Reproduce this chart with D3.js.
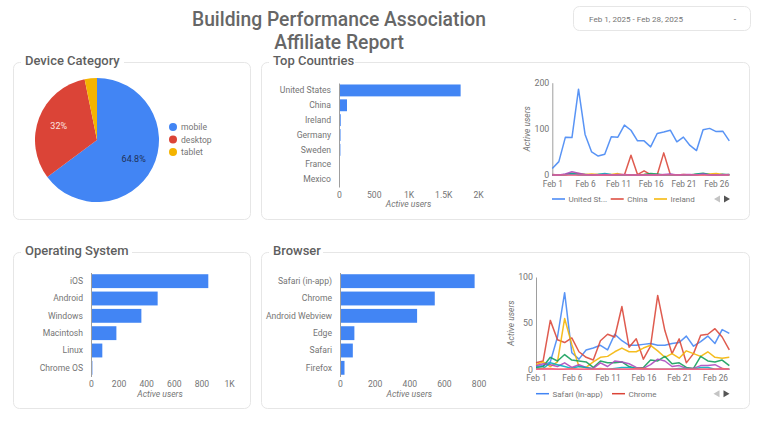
<!DOCTYPE html>
<html>
<head>
<meta charset="utf-8">
<script src="https://cdn.jsdelivr.net/npm/d3@7"></script>
<style>
  html, body { margin: 0; padding: 0; background: #fff; }
  svg { display: block; font-family: Roboto, sans-serif; }
  text { fill: #757575; font-size: 8.6px; }
  .title { font-size: 19.3px; font-weight: 500; fill: #666; text-anchor: middle; }
  .card-title { font-size: 13px; font-weight: 500; fill: #5f5f5f; }
  .card { fill: #fff; stroke: #e6e6e6; }
  .axis-title { font-style: italic; text-anchor: middle; }
  .legend-label { font-size: 8px; }
</style>
</head>
<body>
<svg id="chart" width="768" height="421"></svg>
<script>
var BLUE = '#4285f4', RED = '#db4437', YELLOW = '#f4b400', GREEN = '#0f9d58',
  PURPLE = '#ab47bc', TEAL = '#00acc1', ORANGE = '#ff7043', PINK = '#f06292';

var days = d3.range(1, 29).map(function(d) { return 'Feb ' + d; });
var dayTicks = ['Feb 1', 'Feb 6', 'Feb 11', 'Feb 16', 'Feb 21', 'Feb 26'];

var deviceNames = ['mobile', 'desktop', 'tablet'];
var deviceShares = [64.8, 32, 3.2];
var deviceColors = [BLUE, RED, YELLOW];

var countryNames = ['United States', 'China', 'Ireland', 'Germany', 'Sweden', 'France', 'Mexico'];
var countryUsers = [1750, 115, 25, 22, 20, 10, 8];

var osNames = ['iOS', 'Android', 'Windows', 'Macintosh', 'Linux', 'Chrome OS'];
var osUsers = [850, 483, 365, 184, 82, 10];

var browserNames = ['Safari (in-app)', 'Chrome', 'Android Webview', 'Edge', 'Safari', 'Firefox'];
var browserUsers = [777, 547, 445, 83, 74, 26];

var usDaily = [14, 29, 82, 81, 186, 88, 50, 41, 45, 83, 82, 108, 97, 74, 74, 61, 90, 93, 97, 72, 82, 64, 53, 98, 101, 94, 95, 74];
var chinaDaily = [1, 0, 0, 1, 0, 0, 0, 0, 0, 0, 0, 0, 43, 1, 9, 1, 0, 48, 1, 0, 0, 0, 0, 1, 0, 0, 1, 0];
var irelandDaily = [0, 0, 1, 3, 3, 1, 2, 1, 1, 1, 3, 0, 0, 0, 1, 1, 0, 0, 0, 0, 1, 0, 1, 0, 2, 3, 1, 0];
var germanyDaily = [0, 0, 1, 3, 1, 1, 0, 1, 1, 0, 0, 0, 0, 0, 1, 3, 2, 0, 0, 0, 0, 0, 2, 4, 1, 0, 1, 1];
var swedenDaily = [0, 0, 1, 2, 1, 0, 0, 1, 3, 1, 0, 0, 0, 0, 0, 0, 0, 0, 1, 0, 0, 0, 1, 2, 0, 0, 1, 0];
var franceDaily = [0, 0, 2, 7, 4, 1, 0, 0, 1, 0, 1, 1, 0, 0, 0, 0, 0, 1, 2, 0, 1, 1, 0, 2, 0, 0, 0, 1];

var safariAppDaily = [3, 4, 8, 35, 83, 18, 11, 21, 23, 26, 21, 38, 31, 26, 26, 27, 28, 26, 26, 28, 29, 36, 25, 30, 36, 28, 43, 39];
var chromeDaily = [7, 9, 53, 32, 29, 34, 19, 13, 10, 31, 38, 35, 68, 24, 33, 11, 25, 80, 42, 17, 33, 7, 17, 37, 38, 44, 35, 21];
var webviewDaily = [5, 8, 3, 8, 55, 27, 3, 2, 8, 13, 14, 19, 23, 19, 19, 23, 26, 20, 13, 17, 12, 20, 17, 14, 19, 13, 12, 13];
var edgeDaily = [2, 3, 13, 9, 16, 10, 9, 8, 2, 9, 7, 7, 8, 3, 1, 2, 10, 9, 14, 6, 7, 2, 1, 14, 9, 8, 10, 4];
var safariDaily = [4, 6, 5, 3, 7, 2, 5, 2, 1, 7, 3, 9, 8, 6, 2, 1, 5, 11, 9, 3, 4, 1, 1, 4, 4, 5, 1, 0];
var firefoxDaily = [1, 1, 7, 5, 3, 1, 3, 2, 0, 0, 0, 1, 2, 2, 1, 0, 0, 0, 0, 0, 1, 1, 0, 2, 2, 0, 0, 0];
var samsungDaily = [0, 1, 1, 0, 0, 1, 0, 0, 0, 1, 0, 0, 0, 0, 1, 1, 0, 0, 0, 0, 0, 0, 0, 0, 0, 0, 1, 0];
var operaDaily = [0, 0, 0, 0, 0, 0, 0, 0, 0, 0, 0, 0, 0, 0, 0, 0, 0, 0, 0, 0, 0, 0, 0, 0, 0, 0, 0, 0];

var svg = d3.select('#chart');

svg.append('text').attr('class', 'title').attr('x', 339).attr('y', 26).text('Building Performance Association');
svg.append('text').attr('class', 'title').attr('x', 339).attr('y', 48.5).text('Affiliate Report');

// date range control
svg.append('rect').attr('class', 'card').attr('x', 573.5).attr('y', 6.5).attr('width', 177).attr('height', 24).attr('rx', 6);
svg.append('text').attr('x', 589).attr('y', 21.5).style('font-size', '8.1px').text('Feb 1, 2025 - Feb 28, 2025');
svg.append('text').attr('x', 735).attr('y', 21.5).attr('text-anchor', 'middle').text('-');

function card(x, y, w, h, title, titleWidth) {
  svg.append('rect').attr('class', 'card').attr('x', x + 0.5).attr('y', y + 0.5).attr('width', w).attr('height', h).attr('rx', 6);
  svg.append('rect').attr('x', x + 8).attr('y', y - 3).attr('width', titleWidth).attr('height', 6).attr('fill', '#fff');
  svg.append('text').attr('class', 'card-title').attr('x', x + 12).attr('y', y + 3).text(title);
}

card(13, 62, 237, 157, 'Device Category', 103);
card(261, 62, 488, 157, 'Top Countries', 86);
card(13, 252, 237, 156, 'Operating System', 111);
card(261, 252, 488, 156, 'Browser', 54);

function drawPie() {
  var g = svg.append('g').attr('transform', 'translate(97,140)');
  var pie = d3.pie().sort(null)(deviceShares);
  var arc = d3.arc().innerRadius(0).outerRadius(62);
  var labelArc = d3.arc().innerRadius(41).outerRadius(41);

  g.selectAll('path').data(pie).enter().append('path')
    .attr('d', arc)
    .attr('fill', function(d, i) { return deviceColors[i]; });

  g.selectAll('text').data(pie.slice(0, 2)).enter().append('text')
    .attr('transform', function(d) { return 'translate(' + labelArc.centroid(d) + ')'; })
    .attr('text-anchor', 'middle')
    .attr('dy', '0.35em')
    .style('font-size', '9px')
    .style('fill', function(d, i) { return i === 0 ? '#1f3158' : '#fbe3e0'; })
    .text(function(d) { return d.value + '%'; });

  var legendY = d3.scalePoint().domain(deviceNames).range([127, 152]);
  var legend = svg.append('g').selectAll('g').data(deviceNames).enter().append('g')
    .attr('transform', function(d) { return 'translate(173,' + legendY(d) + ')'; });
  legend.append('circle').attr('r', 4).attr('fill', function(d, i) { return deviceColors[i]; });
  legend.append('text').attr('x', 8).attr('dy', '0.35em').text(function(d) { return d; });
}

function drawBars(opts) {
  var g = svg.append('g');
  var x = d3.scaleLinear().domain([0, opts.max]).range([opts.x0, opts.x1]);
  var y = d3.scaleBand().domain(opts.names).range([opts.y0, opts.y1]).paddingInner(opts.padding).paddingOuter(opts.padding / 2);

  g.selectAll('rect').data(opts.values).enter().append('rect')
    .attr('x', x(0))
    .attr('y', function(d, i) { return y(opts.names[i]); })
    .attr('width', function(d) { return x(d) - x(0); })
    .attr('height', y.bandwidth())
    .attr('fill', BLUE);

  var yAxis = g.append('g').attr('transform', 'translate(' + x(0) + ',0)')
    .call(d3.axisLeft(y).tickSize(0).tickPadding(8));
  yAxis.select('.domain').attr('stroke', '#9e9e9e');
  yAxis.selectAll('text').style('font-size', '8.6px').style('font-family', 'Roboto');

  var xAxis = g.append('g').attr('transform', 'translate(0,' + opts.y1 + ')')
    .call(d3.axisBottom(x).tickValues(opts.ticks).tickSize(0).tickPadding(4.5).tickFormat(opts.format));
  xAxis.select('.domain').remove();
  xAxis.selectAll('text').style('font-size', '8.6px').style('font-family', 'Roboto');

  g.append('text').attr('class', 'axis-title').attr('x', (x(0) + x(opts.ticks[opts.ticks.length - 1])) / 2)
    .attr('y', opts.y1 + 20).text('Active users');
}

function thousands(d) {
  return d === 0 ? '0' : d >= 1000 ? d / 1000 + 'K' : String(d);
}

function drawLines(opts) {
  var g = svg.append('g');
  var x = d3.scalePoint().domain(days).range([opts.x0, opts.x1]);
  var y = d3.scaleLinear().domain([0, opts.max]).range([opts.y0, opts.y1]);
  var line = d3.line()
    .x(function(d, i) { return x(days[i]); })
    .y(function(d) { return y(d); });

  var yAxis = g.append('g').attr('transform', 'translate(' + opts.x0 + ',0)')
    .call(d3.axisLeft(y).tickValues(opts.ticks).tickSize(0).tickPadding(3));
  yAxis.select('.domain').attr('stroke', '#9e9e9e');
  yAxis.selectAll('text').style('font-size', '8.8px').style('font-family', 'Roboto');

  var xAxis = g.append('g').attr('transform', 'translate(0,' + opts.y0 + ')')
    .call(d3.axisBottom(x).tickValues(dayTicks).tickSize(0).tickPadding(6));
  xAxis.select('.domain').remove();
  xAxis.selectAll('text').style('font-size', '8.3px').style('font-family', 'Roboto');

  g.selectAll('path.series').data(opts.series).enter().append('path')
    .attr('class', 'series')
    .attr('d', function(d) { return line(d.values); })
    .attr('fill', 'none')
    .attr('stroke', function(d) { return d.color; })
    .attr('stroke-width', 1.5)
    .attr('stroke-opacity', 0.88)
    .attr('stroke-linejoin', 'round');

  g.append('text')
    .attr('transform', 'translate(' + (opts.x0 - 22) + ',' + (opts.y0 + opts.y1) / 2 + ') rotate(-90)')
    .attr('text-anchor', 'middle')
    .style('font-style', 'italic')
    .text('Active users');

  // legend strip with its page arrows
  opts.legend.forEach(function(item) {
    g.append('line').attr('x1', item.x).attr('x2', item.x + 13).attr('y1', opts.legendY).attr('y2', opts.legendY)
      .attr('stroke', item.color).attr('stroke-width', 1.5);
    g.append('text').attr('class', 'legend-label').attr('x', item.x + 16.5).attr('y', opts.legendY).attr('dy', '0.35em').text(item.label);
  });
  var ly = opts.legendY;
  g.append('path').attr('d', 'M' + (opts.arrowX + 3) + ',' + (ly - 3.5) + 'L' + (opts.arrowX - 3) + ',' + ly + 'L' + (opts.arrowX + 3) + ',' + (ly + 3.5) + 'Z').attr('fill', '#c4c4c4');
  g.append('path').attr('d', 'M' + (opts.arrowX + 7) + ',' + (ly - 3.5) + 'L' + (opts.arrowX + 13) + ',' + ly + 'L' + (opts.arrowX + 7) + ',' + (ly + 3.5) + 'Z').attr('fill', '#555');
}

drawPie();

drawBars({
  names: countryNames, values: countryUsers, max: 2000,
  x0: 339, x1: 478, y0: 83, y1: 187, padding: 0.2,
  ticks: [0, 500, 1000, 1500, 2000], format: thousands
});
drawBars({
  names: osNames, values: osUsers, max: 1000,
  x0: 91, x1: 229, y0: 272.5, y1: 376.5, padding: 0.2,
  ticks: [0, 200, 400, 600, 800, 1000], format: thousands
});
drawBars({
  names: browserNames, values: browserUsers, max: 800,
  x0: 340, x1: 478.6, y0: 272.5, y1: 376.5, padding: 0.2,
  ticks: [0, 200, 400, 600, 800], format: thousands
});

drawLines({
  x0: 552.3, x1: 729.3, y0: 175, y1: 82.7, max: 200, ticks: [0, 100, 200],
  series: [
    { values: usDaily, color: BLUE },
    { values: chinaDaily, color: RED },
    { values: irelandDaily, color: YELLOW },
    { values: germanyDaily, color: GREEN },
    { values: swedenDaily, color: TEAL },
    { values: franceDaily, color: PURPLE },
    { values: operaDaily, color: PINK }
  ],
  legend: [
    { x: 552, color: BLUE, label: 'United St...' },
    { x: 610.7, color: RED, label: 'China' },
    { x: 654, color: YELLOW, label: 'Ireland' }
  ],
  legendY: 199, arrowX: 717
});

drawLines({
  x0: 536, x1: 729.3, y0: 369.3, y1: 277, max: 100, ticks: [0, 50, 100],
  series: [
    { values: safariAppDaily, color: BLUE },
    { values: chromeDaily, color: RED },
    { values: webviewDaily, color: YELLOW },
    { values: edgeDaily, color: GREEN },
    { values: safariDaily, color: PURPLE },
    { values: firefoxDaily, color: TEAL },
    { values: samsungDaily, color: ORANGE },
    { values: operaDaily, color: PINK }
  ],
  legend: [
    { x: 536, color: BLUE, label: 'Safari (in-app)' },
    { x: 612, color: RED, label: 'Chrome' }
  ],
  legendY: 393.7, arrowX: 716.5
});
</script>
</body>
</html>
